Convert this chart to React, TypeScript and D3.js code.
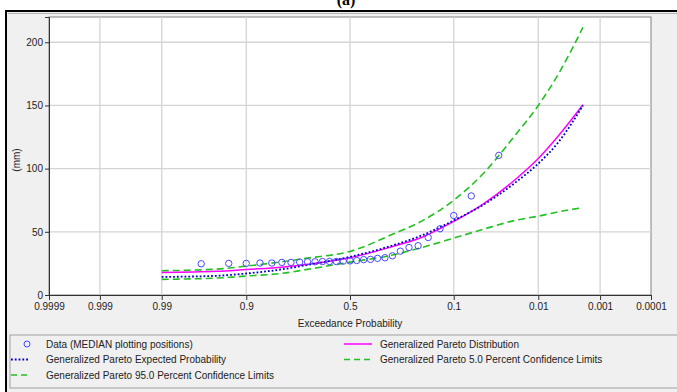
// @ts-nocheck
import * as d3 from "d3";
import { useRef, useEffect } from "react";

const tickProbs = [0.9999, 0.999, 0.99, 0.9, 0.5, 0.1, 0.01, 0.001, 0.0001];
const tickLabels = ["0.9999", "0.999", "0.99", "0.9", "0.5", "0.1", "0.01", "0.001", "0.0001"];
const yTicks = [0, 50, 100, 150, 200];

// observed data, exceedance probability and value (mm)
const dataProb = [0.967, 0.933, 0.9, 0.867, 0.833, 0.8, 0.767, 0.733, 0.7, 0.667, 0.633, 0.6, 0.567, 0.533, 0.5, 0.467, 0.433, 0.4, 0.367, 0.333, 0.3, 0.267, 0.233, 0.2, 0.167, 0.133, 0.1, 0.067, 0.033];
const dataValue = [24.7, 25.0, 25.0, 25.3, 25.3, 25.8, 25.8, 26.1, 26.3, 26.3, 26.5, 26.5, 26.5, 26.8, 27.0, 27.3, 28.0, 28.2, 29.0, 29.5, 31.0, 34.7, 37.6, 39.0, 45.5, 52.4, 62.9, 78.4, 110.5];

// fitted curves
const curveProb = [0.99, 0.95, 0.9, 0.8, 0.7, 0.5, 0.3, 0.2, 0.1, 0.05, 0.02, 0.01, 0.005, 0.002];
const gpDist = [17.8, 18.7, 20.2, 22.0, 24.3, 29.5, 38.3, 44.5, 58.3, 72, 92, 108, 126, 150.5];
const gpExpected = [14.3, 15.2, 17.0, 20.3, 23.8, 30.2, 39.2, 46.0, 59.0, 71.3, 89.5, 104, 121, 150];
const gpUpper95 = [19.2, 20.5, 22.9, 26.3, 29.2, 34.5, 48, 57, 75, 96, 127.5, 150, 175, 211.8];
const gpLower5 = [12.4, 13.4, 15.0, 17.1, 20.3, 26.0, 31.6, 36.8, 45, 52, 59.2, 62.4, 65.8, 69.2];

const FONT = "'Liberation Sans', Arial, sans-serif";
const GREEN = "#22c022";

// inverse normal cdf (Acklam)
function probit(p) {
  const a = [-39.69683028665376, 220.9460984245205, -275.9285104469687, 138.357751867269, -30.66479806614716, 2.506628277459239];
  const b = [-54.47609879822406, 161.5858368580409, -155.6989798598866, 66.80131188771972, -13.28068155288572];
  const c = [-0.007784894002430293, -0.3223964580411365, -2.400758277161838, -2.549732539343734, 4.374664141464968, 2.938163982698783];
  const d = [0.007784695709041462, 0.3224671290700398, 2.445134137142996, 3.754408661907416];
  const pl = 0.02425;
  if (p < pl) {
    const q = Math.sqrt(-2 * Math.log(p));
    return (((((c[0] * q + c[1]) * q + c[2]) * q + c[3]) * q + c[4]) * q + c[5]) / ((((d[0] * q + d[1]) * q + d[2]) * q + d[3]) * q + 1);
  }
  if (p > 1 - pl) {
    const q = Math.sqrt(-2 * Math.log(1 - p));
    return -(((((c[0] * q + c[1]) * q + c[2]) * q + c[3]) * q + c[4]) * q + c[5]) / ((((d[0] * q + d[1]) * q + d[2]) * q + d[3]) * q + 1);
  }
  const q = p - 0.5;
  const r = q * q;
  return ((((((a[0] * r + a[1]) * r + a[2]) * r + a[3]) * r + a[4]) * r + a[5]) * q) / (((((b[0] * r + b[1]) * r + b[2]) * r + b[3]) * r + b[4]) * r + 1);
}

export default function App() {
  const width = 677;
  const height = 392;
  const marginLeft = 49;
  const plotRight = 651;
  const marginTop = 17;
  const plotBottom = 295;

  const gx = useRef();
  const gy = useRef();

  const xz = d3.scaleLinear([probit(0.0001), probit(0.9999)], [marginLeft, plotRight]);
  const x = (p) => xz(probit(1 - p));
  const y = d3.scaleLinear([0, 220], [plotBottom, marginTop]);

  useEffect(() => {
    const ax = d3
      .axisBottom(xz)
      .tickValues(tickProbs.map((p) => probit(1 - p)))
      .tickFormat((d, i) => tickLabels[i])
      .tickSize(5)
      .tickPadding(3);
    const g = d3.select(gx.current).call(ax);
    g.attr("font-family", FONT).attr("font-size", 10);
    g.select(".domain").attr("stroke", "#333");
    g.selectAll(".tick line").attr("stroke", "#333");
    g.selectAll(".tick text").attr("fill", "#222");
  }, []);

  useEffect(() => {
    const ay = d3.axisLeft(y).tickValues(yTicks).tickSize(4).tickPadding(2);
    const g = d3.select(gy.current).call(ay);
    g.attr("font-family", FONT).attr("font-size", 10);
    g.select(".domain").attr("stroke", "#333");
    g.selectAll(".tick line").attr("stroke", "#333");
    g.selectAll(".tick text").attr("fill", "#222");
  }, []);

  const line = d3
    .line()
    .x((d) => x(d[0]))
    .y((d) => y(d[1]))
    .curve(d3.curveMonotoneX);
  const pts = (vals) => curveProb.map((p, i) => [p, vals[i]]);

  const legendRows = [344, 359.5, 375];

  return (
    <svg width={width} height={height} style={{ position: "absolute", left: 0, top: 0 }}>
      {/* title, cut off at top in the original */}
      <text x={346} y={5} textAnchor="middle" fontFamily="'Liberation Serif', serif" fontSize={16} fontWeight="bold">
        (a)
      </text>
      {/* window frame */}
      <rect x={6} y={11} width={700} height={400} fill="#f0f0f0" stroke="#000" strokeWidth={2} />
      <line x1={8} x2={700} y1={13.5} y2={13.5} stroke="#b0b0b0" />
      {/* plot area */}
      <rect x={marginLeft} y={marginTop} width={plotRight - marginLeft} height={plotBottom - marginTop} fill="#fff" stroke="#808080" />
      <g stroke="#d4d4d4" strokeWidth={1.3}>
        {tickProbs.slice(1, -1).map((p) => (
          <line key={p} x1={x(p)} x2={x(p)} y1={marginTop} y2={plotBottom} />
        ))}
        {yTicks.slice(1).map((v) => (
          <line key={v} x1={marginLeft} x2={plotRight} y1={y(v)} y2={y(v)} />
        ))}
      </g>

      <path d={line(pts(gpUpper95))} fill="none" stroke={GREEN} strokeWidth={1.6} strokeDasharray="7,4" />
      <path d={line(pts(gpLower5))} fill="none" stroke={GREEN} strokeWidth={1.6} strokeDasharray="7,4" />
      <path d={line(pts(gpDist))} fill="none" stroke="#ff00ff" strokeWidth={1.5} />
      <path d={line(pts(gpExpected))} fill="none" stroke="#0000cc" strokeWidth={1.8} strokeDasharray="1.8,2" />

      <g fill="none" stroke="#4848ff" strokeWidth={1}>
        {dataProb.map((p, i) => (
          <circle key={i} cx={x(p)} cy={y(dataValue[i])} r={3.2} />
        ))}
      </g>

      <g ref={gx} transform={`translate(0,${plotBottom})`} />
      <g ref={gy} transform={`translate(${marginLeft},0)`} />

      <text x={350} y={327} textAnchor="middle" fontFamily={FONT} fontSize={10} fill="#222">
        Exceedance Probability
      </text>
      <text transform={`translate(20,160) rotate(-90)`} textAnchor="middle" fontFamily={FONT} fontSize={10} fill="#222">
        (mm)
      </text>

      {/* legend */}
      <rect x={10} y={335} width={700} height={53} fill="#f0f0f0" stroke="#a0a0a0" />
      <g fontFamily={FONT} fontSize={10} fill="#222">
        <circle cx={27} cy={legendRows[0]} r={3} fill="none" stroke="#4848ff" />
        <text x={46} y={legendRows[0] + 3.5}>Data (MEDIAN plotting positions)</text>
        <line x1={11} x2={30} y1={legendRows[1]} y2={legendRows[1]} stroke="#0000cc" strokeWidth={1.8} strokeDasharray="1.8,2" />
        <text x={46} y={legendRows[1] + 3.5}>Generalized Pareto Expected Probability</text>
        <line x1={11} x2={30} y1={legendRows[2]} y2={legendRows[2]} stroke={GREEN} strokeWidth={1.6} strokeDasharray="6,4" />
        <text x={46} y={legendRows[2] + 3.5}>Generalized Pareto 95.0 Percent Confidence Limits</text>
        <line x1={344} x2={372} y1={legendRows[0]} y2={legendRows[0]} stroke="#ff00ff" strokeWidth={1.5} />
        <text x={380} y={legendRows[0] + 3.5}>Generalized Pareto Distribution</text>
        <line x1={344} x2={372} y1={legendRows[1]} y2={legendRows[1]} stroke={GREEN} strokeWidth={1.6} strokeDasharray="6,4" />
        <text x={380} y={legendRows[1] + 3.5}>Generalized Pareto 5.0 Percent Confidence Limits</text>
      </g>
    </svg>
  );
}
